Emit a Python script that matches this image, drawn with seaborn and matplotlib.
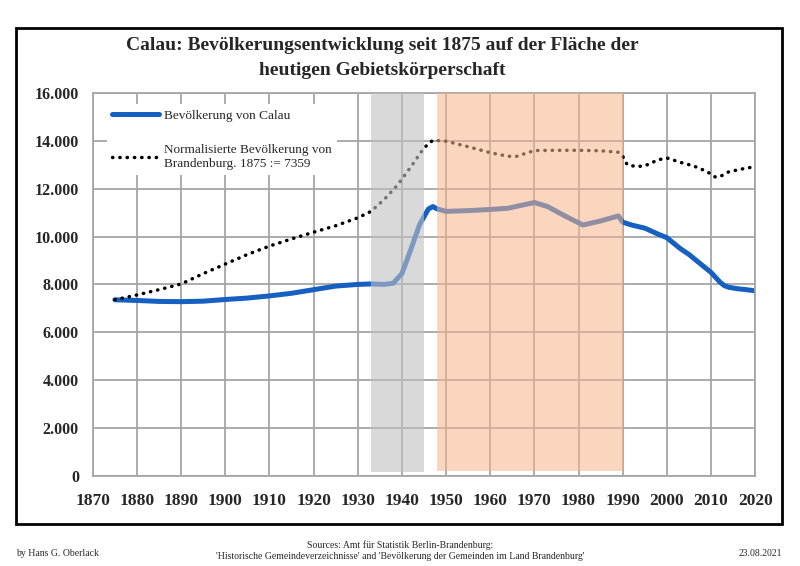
import matplotlib
matplotlib.use('Agg')
import matplotlib.pyplot as plt
from matplotlib.patches import Rectangle
from matplotlib.ticker import FuncFormatter
import seaborn as sns

# Bevölkerung von Calau
calau_years = [1875, 1880, 1885, 1890, 1895, 1900, 1905, 1910, 1915, 1920, 1925, 1930,
               1933, 1936, 1938, 1940, 1942, 1944, 1946, 1947, 1948, 1950, 1955, 1960,
               1964, 1967, 1970, 1973, 1977, 1981, 1985, 1989, 1990, 1992, 1995, 1998,
               2000, 2003, 2005, 2007, 2010, 2011, 2012, 2013, 2014, 2016, 2018, 2020]
calau_values = [7359, 7330, 7290, 7280, 7300, 7370, 7430, 7520, 7630, 7780, 7930, 8000,
                8020, 8000, 8050, 8450, 9450, 10500, 11150, 11250, 11150, 11050, 11080, 11130,
                11180, 11300, 11420, 11250, 10850, 10480, 10650, 10860, 10600, 10480, 10350, 10100,
                9950, 9500, 9250, 8950, 8500, 8300, 8100, 7950, 7880, 7820, 7780, 7730]

# Normalisierte Bevölkerung von Brandenburg, 1875 := 7359
bb_years = [1875, 1880, 1885, 1890, 1895, 1900, 1905, 1910, 1915, 1920, 1925, 1930,
            1933, 1936, 1939, 1942, 1945, 1947, 1950, 1955, 1960, 1964, 1966, 1970,
            1975, 1980, 1985, 1989, 1990, 1991, 1993, 1995, 1998, 2000, 2003, 2006,
            2009, 2011, 2012, 2014, 2017, 2020]
bb_values = [7359, 7560, 7780, 8020, 8450, 8850, 9250, 9600, 9900, 10180, 10450, 10780,
             11050, 11550, 12150, 12900, 13700, 14020, 13980, 13750, 13500, 13350, 13350, 13590,
             13600, 13600, 13580, 13520, 13350, 13000, 12920, 12950, 13200, 13280, 13100, 12950,
             12720, 12480, 12500, 12700, 12820, 12920]

x_ticks = list(range(1870, 2021, 10))
y_ticks = list(range(0, 16001, 2000))

sns.set_style("white")
plt.rcParams['font.family'] = ['Liberation Serif', 'DejaVu Serif']

fig = plt.figure(figsize=(8, 5.66), dpi=100)
ax = fig.add_axes([0.116, 0.159, 0.828, 0.677])

sns.lineplot(x=calau_years, y=calau_values, ax=ax, color='#1560c0', linewidth=3.6,
             label='Bevölkerung von Calau', solid_capstyle='round')
sns.lineplot(x=bb_years, y=bb_values, ax=ax, color='black', linewidth=2.5,
             linestyle=(0, (0.1, 2.0)), dash_capstyle='round',
             label='Normalisierte Bevölkerung von\nBrandenburg. 1875 := 7359')

# Zeiträume: NS-Zeit (grau) und DDR-Zeit (orange)
ax.axvspan(1933, 1945, ymin=0.01, ymax=1, color='#c0c0c0', alpha=0.6, lw=0, zorder=5)
ax.axvspan(1948, 1990, ymin=0.012, ymax=1, color='#f7b58c', alpha=0.55, lw=0, zorder=5)

ax.set_xlim(1870, 2020)
ax.set_ylim(0, 16000)
ax.set_xticks(x_ticks)
ax.set_yticks(y_ticks)
ax.yaxis.set_major_formatter(FuncFormatter(lambda v, p: f'{int(v):,}'.replace(',', '.')))
ax.grid(True, color='#a6a6a6', linewidth=1.3)
for s in ax.spines.values():
    s.set_color('#a6a6a6')
    s.set_linewidth(1.3)
ax.tick_params(axis='both', length=6, width=1.3, color='#a6a6a6', direction='out')
ax.tick_params(axis='x', labelsize=12.5, pad=6)
ax.tick_params(axis='y', labelsize=11.5, pad=4)
for lbl in ax.get_xticklabels() + ax.get_yticklabels():
    lbl.set_fontweight('bold')

leg = ax.legend(loc='upper left', bbox_to_anchor=(0.015, 0.98), frameon=True,
                fontsize=9.5, handlelength=3.6, handletextpad=0.35, labelspacing=1.7,
                borderaxespad=0.3)
leg.get_frame().set_facecolor('white')
leg.get_frame().set_edgecolor('none')
leg.get_frame().set_alpha(1)
leg.set_zorder(6)

fig.text(0.478, 1 - 58 / 566, 'Calau: Bevölkerungsentwicklung seit 1875 auf der Fläche der\n'
         'heutigen Gebietskörperschaft', ha='center', va='center',
         fontsize=14, fontweight='bold', linespacing=1.6)

# Rahmen um das Diagramm
fig.patches.append(Rectangle((0.02, 1 - 524 / 566), 0.958, (524 - 28) / 566,
                             transform=fig.transFigure, fill=False,
                             edgecolor='black', linewidth=2))

fig.text(0.02, 1 - 553 / 566, 'by Hans G. Oberlack', ha='left', va='center', fontsize=7)
fig.text(0.5, 1 - 551 / 566, "Sources: Amt für Statistik Berlin-Brandenburg:\n"
         "'Historische Gemeindeverzeichnisse' and 'Bevölkerung der Gemeinden im Land Brandenburg'",
         ha='center', va='center', fontsize=7, linespacing=1.3)
fig.text(0.978, 1 - 553 / 566, '23.08.2021', ha='right', va='center', fontsize=7)

plt.savefig('out.png', dpi=100, facecolor='white')
plt.close()
